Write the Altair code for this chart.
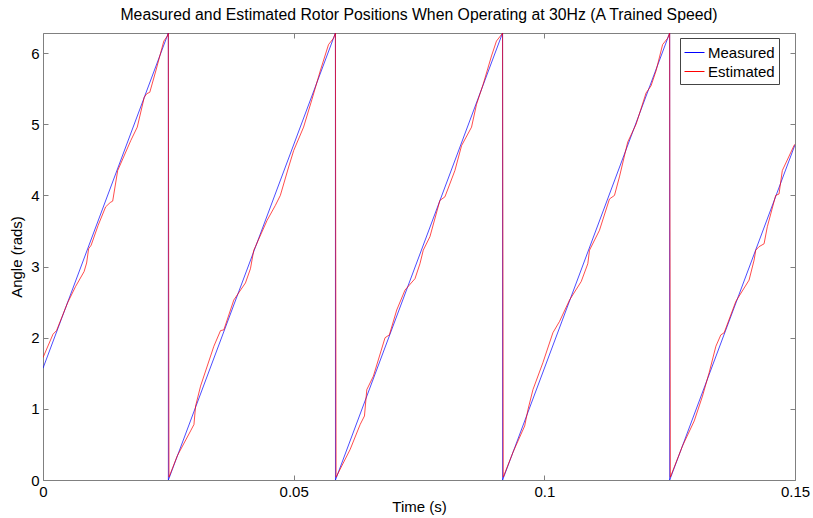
import altair as alt
import pandas as pd

# ---- data ----
measured_t = [0.0, 0.025, 0.02501, 0.05833, 0.05834, 0.09167, 0.09168, 0.125, 0.12501, 0.15]
measured_v = [1.571, 6.283, 0.0, 6.283, 0.0, 6.283, 0.0, 6.283, 0.0, 4.712]

estimated_t = [
    0.0, 0.0020, 0.0027, 0.0049, 0.0065, 0.0082, 0.0087, 0.0091, 0.0096, 0.0110,
    0.0125, 0.0134, 0.0139, 0.0149, 0.0175, 0.0188, 0.0202, 0.0207, 0.0213, 0.0225,
    0.0241, 0.0248, 0.0250,
    0.02513, 0.02679, 0.02944, 0.03011, 0.03044, 0.03143, 0.03408, 0.03541, 0.03607,
    0.03806, 0.04038, 0.04138, 0.04204, 0.04237, 0.0447, 0.04635, 0.04734, 0.049,
    0.05, 0.05198, 0.05365, 0.0553, 0.05695, 0.05795, 0.05833,
    0.05846, 0.06127, 0.06326, 0.06412, 0.06459, 0.0659, 0.06823, 0.06909, 0.07056,
    0.07221, 0.0742, 0.07519, 0.07585, 0.07718, 0.07917, 0.08017, 0.08216, 0.08349,
    0.08548, 0.08647, 0.08779, 0.08946, 0.09045, 0.09167,
    0.0918, 0.09375, 0.09608, 0.09674, 0.09773, 0.09972, 0.10171, 0.10304, 0.10503,
    0.10736, 0.10867, 0.10901, 0.111, 0.11299, 0.11399, 0.11498, 0.11663, 0.1183,
    0.12029, 0.12128, 0.12228, 0.12359, 0.12459, 0.125,
    0.12513, 0.12757, 0.1299, 0.13155, 0.13288, 0.13422, 0.13521, 0.13587, 0.1382,
    0.14084, 0.14184, 0.14217, 0.14283, 0.14383, 0.14448, 0.14615, 0.14681, 0.14747,
    0.1498, 0.15,
]
estimated_v = [
    1.72, 2.05, 2.10, 2.49, 2.72, 2.93, 3.05, 3.25, 3.30, 3.58,
    3.84, 3.90, 3.92, 4.35, 4.77, 4.96, 5.38, 5.43, 5.45, 5.75,
    6.17, 6.24, 6.28,
    0.04, 0.34, 0.69, 0.78, 1.04, 1.32, 1.88, 2.10, 2.11,
    2.53, 2.77, 2.97, 3.23, 3.28, 3.65, 3.86, 4.00, 4.40,
    4.63, 4.96, 5.35, 5.75, 6.12, 6.21, 6.28,
    0.04, 0.43, 0.78, 0.90, 1.27, 1.46, 2.00, 2.04, 2.39,
    2.67, 2.83, 3.04, 3.23, 3.42, 3.93, 3.98, 4.35, 4.70,
    4.96, 5.28, 5.56, 5.96, 6.17, 6.28,
    0.04, 0.39, 0.76, 0.99, 1.27, 1.65, 2.07, 2.23, 2.53,
    2.79, 3.04, 3.23, 3.51, 3.95, 4.00, 4.26, 4.75, 5.00,
    5.44, 5.54, 5.75, 6.12, 6.21, 6.28,
    0.04, 0.48, 0.83, 1.18, 1.51, 1.88, 2.04, 2.07, 2.51,
    2.81, 3.09, 3.23, 3.28, 3.32, 3.56, 4.00, 4.02, 4.35,
    4.70, 4.72,
]

series_names = ["Measured", "Estimated"]
series_colors = ["#0000ff", "#ff0000"]
x_ticks = [0, 0.05, 0.1, 0.15]
y_ticks = [0, 1, 2, 3, 4, 5, 6]
x_domain = [0, 0.15]
y_domain = [0, 6.2832]

title_text = "Measured and Estimated Rotor Positions When Operating at 30Hz (A Trained Speed)"
x_title = "Time (s)"
y_title = "Angle (rads)"

# ---- table ----
rows = []
for i, (t, v) in enumerate(zip(measured_t, measured_v)):
    rows.append({"t": t, "v": v, "series": series_names[0], "i": i})
for i, (t, v) in enumerate(zip(estimated_t, estimated_v)):
    rows.append({"t": t, "v": v, "series": series_names[1], "i": i})
df = pd.DataFrame(rows)

FONT = "Liberation Sans"
GRAY = "#808080"

x_scale = alt.Scale(domain=x_domain, nice=False, zero=False)
y_scale = alt.Scale(domain=y_domain, nice=False, zero=False)

base = alt.Chart(df)

lines = base.mark_line(strokeWidth=1, strokeOpacity=0.7, clip=True).encode(
    x=alt.X(
        "t:Q", scale=x_scale, title=x_title,
        axis=alt.Axis(
            orient="bottom", values=x_ticks, format=".2~f", domain=False, grid=False,
            ticks=True, tickSize=5, offset=-5, labelPadding=4, tickColor=GRAY,
            labelColor="#000000", labelFont=FONT, labelFontSize=15, labelFlush=False,
            titleFont=FONT, titleFontSize=15, titleFontWeight="normal",
            titleColor="#000000", titlePadding=0,
        ),
    ),
    y=alt.Y(
        "v:Q", scale=y_scale, title=y_title,
        axis=alt.Axis(
            orient="left", values=y_ticks, format="d", domain=False, grid=False,
            ticks=True, tickSize=5, offset=-5, labelPadding=4, tickColor=GRAY,
            labelColor="#000000", labelFont=FONT, labelFontSize=15, labelFlush=False,
            titleFont=FONT, titleFontSize=15, titleFontWeight="normal",
            titleColor="#000000", titlePadding=6,
        ),
    ),
    color=alt.Color(
        "series:N",
        scale=alt.Scale(domain=series_names, range=series_colors),
        legend=alt.Legend(
            title=None, orient="none", legendX=637, legendY=5,
            symbolType="stroke", symbolSize=400, symbolStrokeWidth=1,
            labelFont=FONT, labelFontSize=15, labelColor="#000000", labelOffset=3,
            fillColor="#ffffff", strokeColor="#444444", padding=4, rowPadding=0,
        ),
    ),
    order="i:Q",
)

frame = base.mark_line(opacity=0).encode(
    x=alt.X(
        "t:Q", scale=x_scale, title=None,
        axis=alt.Axis(
            orient="top", values=x_ticks, labels=False, domain=False, grid=False,
            ticks=True, tickSize=5, offset=-5, tickColor=GRAY,
        ),
    ),
    y=alt.Y(
        "v:Q", scale=y_scale, title=None,
        axis=alt.Axis(
            orient="right", values=y_ticks, labels=False, domain=False, grid=False,
            ticks=True, tickSize=5, offset=-5, tickColor=GRAY,
        ),
    ),
    detail="series:N",
    order="i:Q",
)

chart = (
    alt.layer(frame, lines)
    .resolve_axis(x="independent", y="independent")
    .properties(
        width=752,
        height=447,
        autosize="none",
        padding={"left": 43, "top": 33, "right": 18, "bottom": 38},
        title=alt.TitleParams(
            text=title_text, font=FONT, fontSize=15.8, fontWeight="normal",
            color="#000000", offset=9, anchor="middle",
        ),
        background="#ffffff",
    )
    .configure_view(stroke=GRAY, strokeWidth=1)
)

chart.save("out.html", embed_options={"renderer": "svg", "actions": False})
